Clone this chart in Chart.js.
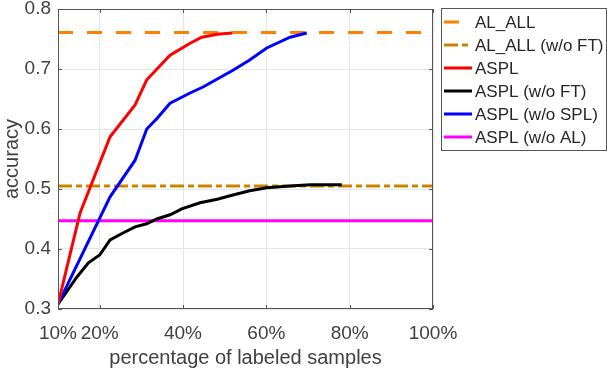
<!DOCTYPE html>
<html>
<head>
<meta charset="utf-8">
<script src="https://cdn.jsdelivr.net/npm/chart.js@4.4.1/dist/chart.umd.min.js"></script>
<style>
  html, body { margin: 0; padding: 0; background: #fff; }
  #wrap { width: 607px; height: 368px; }
</style>
</head>
<body>
<div id="wrap"><canvas id="chart" width="607" height="368"></canvas></div>
<script>
// values (x = % labeled, y = accuracy)
const xTicks = [10, 20, 40, 60, 80, 100]
const yTicks = [0.3, 0.4, 0.5, 0.6, 0.7, 0.8]

const alAll = 0.761
const alAllNoFt = 0.505
const asplNoAl = 0.447

const asplX = [10, 15.3, 22.5, 28.5, 31.3, 36.9, 41.7, 44.5, 48.2, 51.8]
const asplY = [0.308, 0.46, 0.587, 0.64, 0.682, 0.723, 0.743, 0.753, 0.758, 0.76]

const noFtX = [10, 14.5, 17.3, 20, 22.5, 25.7, 28.5, 31.3, 33.7, 36.9, 39.7, 44.1, 48.2, 52, 56, 60.1, 65.7, 70.5, 78.1]
const noFtY = [0.308, 0.353, 0.377, 0.39, 0.415, 0.427, 0.437, 0.442, 0.45, 0.457, 0.467, 0.477, 0.483, 0.49, 0.497, 0.502, 0.505, 0.507, 0.507]

const noSplX = [10, 22.5, 28.5, 31.3, 33.7, 36.9, 41.7, 44.8, 52, 56, 60.1, 65.7, 69.7]
const noSplY = [0.308, 0.487, 0.548, 0.60, 0.617, 0.643, 0.66, 0.67, 0.698, 0.715, 0.735, 0.753, 0.76]

const pts = (xs, ys) => xs.map((x, i) => ({ x, y: ys[i] }))
const flat = v => [{ x: 10, y: v }, { x: 100, y: v }]

const FONT = "'Liberation Sans', Arial, Helvetica, sans-serif"
const TXT = '#404040'

const line = (label, data, color, extra) => Object.assign({
  label, data, borderColor: color, backgroundColor: color,
  borderWidth: 3, pointRadius: 0, tension: 0, fill: false
}, extra)

const datasets = [
  line('AL_ALL', flat(alAll), '#ff8000', { borderDash: [15, 14], order: 5 }),
  line('AL_ALL (w/o FT)', flat(alAllNoFt), '#cc8400', { borderDash: [14, 4, 6, 4], order: 5 }),
  line('ASPL', pts(asplX, asplY), '#ff0000', { order: 1 }),
  line('ASPL (w/o FT)', pts(noFtX, noFtY), '#000000', { order: 2 }),
  line('ASPL (w/o SPL)', pts(noSplX, noSplY), '#0000ff', { order: 1 }),
  line('ASPL (w/o AL)', flat(asplNoAl), '#ff00ff', { order: 6 })
]

// box, inward ticks and the legend, MATLAB style
const boxPlugin = {
  id: 'box',
  afterDatasetsDraw(chart) {
    const { ctx, chartArea: a, scales } = chart
    ctx.save()
    ctx.strokeStyle = '#555'
    ctx.lineWidth = 1
    ctx.strokeRect(a.left + 0.5, a.top + 0.5, a.right - a.left - 1, a.bottom - a.top - 1)
    ctx.beginPath()
    xTicks.forEach(t => {
      const px = Math.round(scales.x.getPixelForValue(t)) + 0.5
      ctx.moveTo(px, a.bottom); ctx.lineTo(px, a.bottom - 4)
      ctx.moveTo(px, a.top); ctx.lineTo(px, a.top + 4)
    })
    yTicks.forEach(t => {
      const py = Math.round(scales.y.getPixelForValue(t)) + 0.5
      ctx.moveTo(a.left, py); ctx.lineTo(a.left + 4, py)
      ctx.moveTo(a.right, py); ctx.lineTo(a.right - 4, py)
    })
    ctx.stroke()
    ctx.restore()
  },
  afterDraw(chart) {
    const { ctx } = chart
    const left = 441, top = 8, w = 165, h = 142
    ctx.save()
    ctx.fillStyle = '#fff'
    ctx.fillRect(left, top, w, h)
    ctx.strokeStyle = '#555'
    ctx.lineWidth = 1
    ctx.strokeRect(left + 0.5, top + 0.5, w, h)
    ctx.font = '17px ' + FONT
    ctx.textBaseline = 'middle'
    chart.data.datasets.forEach((d, i) => {
      const y = 22 + i * 23
      ctx.strokeStyle = d.borderColor
      ctx.lineWidth = d.borderWidth
      ctx.setLineDash(d.borderDash || [])
      ctx.beginPath()
      ctx.moveTo(444, y); ctx.lineTo(472, y)
      ctx.stroke()
      ctx.setLineDash([])
      ctx.fillStyle = '#262626'
      ctx.fillText(d.label, 475, y + 1)
    })
    ctx.restore()
  }
}

new Chart(document.getElementById('chart'), {
  type: 'line',
  data: { datasets },
  plugins: [boxPlugin],
  options: {
    responsive: false,
    animation: false,
    layout: { padding: { top: 9, right: 174, left: 0, bottom: 0 } },
    plugins: { legend: { display: false }, tooltip: { enabled: false } },
    scales: {
      x: {
        type: 'linear', min: 10, max: 100,
        afterBuildTicks: s => { s.ticks = xTicks.map(v => ({ value: v })) },
        afterFit: s => { s.height = 59; s.paddingLeft = 0; s.paddingRight = 0 },
        grid: { color: '#e6e6e6', drawTicks: false },
        border: { display: false },
        ticks: {
          padding: 13, color: TXT, maxRotation: 0, autoSkip: false,
          font: { family: FONT, size: 19 },
          callback: v => v + '%'
        },
        title: {
          display: true, text: 'percentage of labeled samples', color: TXT,
          font: { family: FONT, size: 20, lineHeight: 1 }, padding: { top: 0, bottom: 0 }
        }
      },
      y: {
        type: 'linear', min: 0.3, max: 0.8,
        afterBuildTicks: s => { s.ticks = yTicks.map(v => ({ value: v })) },
        afterFit: s => { s.width = 58; s.paddingTop = 0; s.paddingBottom = 0 },
        grid: { color: '#e6e6e6', drawTicks: false },
        border: { display: false },
        ticks: {
          padding: 7, color: TXT,
          font: { family: FONT, size: 19 },
          callback: v => v.toFixed(1)
        },
        title: {
          display: true, text: 'accuracy', color: TXT,
          font: { family: FONT, size: 20 }, padding: { top: 0, bottom: 0 }
        }
      }
    }
  }
})
</script>
</body>
</html>
